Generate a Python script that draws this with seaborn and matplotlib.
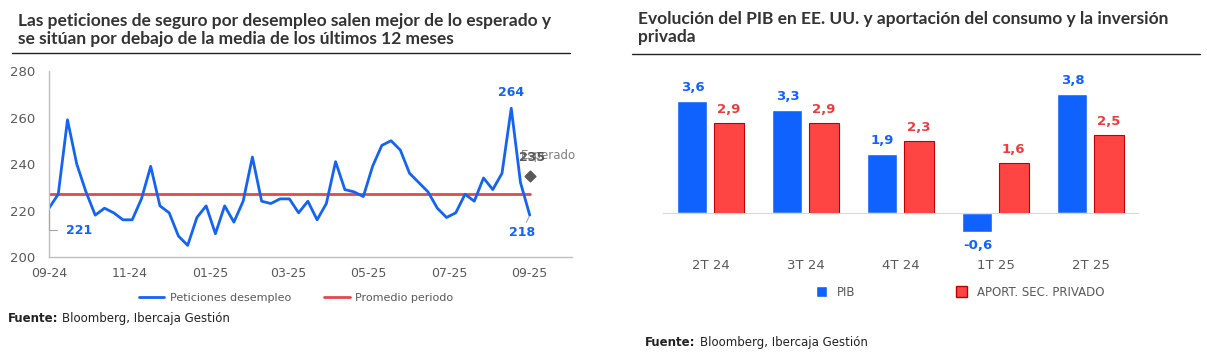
import matplotlib
matplotlib.use('Agg')
import matplotlib.pyplot as plt
from matplotlib.lines import Line2D
from matplotlib.patches import Patch
import pandas as pd
import seaborn as sns

# --- datos: peticiones semanales de seguro por desempleo (miles) ---
fecha_inicio = '2024-09-21'
peticiones = [221, 227, 259, 240, 228, 218, 221, 219, 216, 216, 225, 239, 222, 219,
              209, 205, 217, 222, 210, 222, 215, 224, 243, 224, 223, 225, 225, 219,
              224, 216, 223, 241, 229, 228, 226, 239, 248, 250, 246, 236, 232, 228,
              221, 217, 219, 227, 224, 234, 229, 236, 264, 232, 218]
promedio = 227.3
esperado = 235
tick_fechas = ['2024-09-21', '2024-11-21', '2025-01-21', '2025-03-21',
               '2025-05-21', '2025-07-21', '2025-09-20']
tick_etiquetas = ['09-24', '11-24', '01-25', '03-25', '05-25', '07-25', '09-25']

# --- datos: PIB EE. UU. y aportación sector privado ---
trimestres = ['2T 24', '3T 24', '4T 24', '1T 25', '2T 25']
pib = [3.6, 3.3, 1.9, -0.6, 3.8]
aport_privado = [2.9, 2.9, 2.3, 1.6, 2.5]

AZUL = '#1464F4'
ROJO = '#E5484D'
AZUL_BAR = '#0F62FE'
ROJO_BAR = '#FF4444'
GRIS = '#595959'
TITULO = '#333333'

sns.set_style('white')
plt.rcParams['font.family'] = ['DejaVu Sans']

W, H = 1207, 358
fig = plt.figure(figsize=(W / 100, H / 100), dpi=100)


def px_axes(x0, x1, y0, y1):
    # y0 = top pixel, y1 = bottom pixel
    return fig.add_axes([x0 / W, 1 - y1 / H, (x1 - x0) / W, (y1 - y0) / H])


def fuente(x, y):
    # "Fuente:" en negrita seguido del texto normal, misma línea base
    t = fig.text(x / W, 1 - y / H, 'Fuente:', fontweight='bold', fontsize=8.5,
                 color='#222222', va='baseline')
    fig.canvas.draw()
    bb = t.get_window_extent()
    fig.text((bb.x1 + 4) / W, 1 - y / H, 'Bloomberg, Ibercaja Gestión', fontsize=8.5,
             color='#222222', va='baseline')


# ================= Gráfico izquierdo =================
ax1 = px_axes(49, 572, 71, 257)
df = pd.DataFrame({'fecha': pd.date_range(fecha_inicio, periods=len(peticiones), freq='7D'),
                   'peticiones': peticiones})
df['promedio'] = promedio

sns.lineplot(data=df, x='fecha', y='promedio', color=ROJO, lw=2, ax=ax1)
sns.lineplot(data=df, x='fecha', y='peticiones', color=AZUL, lw=2, ax=ax1)

ultimo = df['fecha'].iloc[-1]
ax1.scatter([ultimo], [esperado], marker='D', s=30, color=GRIS, zorder=5)

ax1.set_ylim(200, 280)
ax1.set_yticks(range(200, 281, 20))
ax1.set_xlim(df['fecha'].iloc[0], ultimo + pd.Timedelta(days=32))
ax1.set_xticks(pd.to_datetime(tick_fechas))
ax1.set_xticklabels(tick_etiquetas)
ax1.set_xlabel('')
ax1.set_ylabel('')
for s in ['top', 'right']:
    ax1.spines[s].set_visible(False)
for s in ['left', 'bottom']:
    ax1.spines[s].set_color('#BFBFBF')
    ax1.spines[s].set_linewidth(1)
ax1.tick_params(axis='both', colors='#BFBFBF', labelcolor=GRIS, labelsize=9, length=4, width=1)
ax1.tick_params(axis='y', pad=6, labelsize=9.5)

# etiquetas de datos
imax = peticiones.index(max(peticiones))
ax1.annotate(str(peticiones[imax]), (df['fecha'].iloc[imax], peticiones[imax]),
             xytext=(0, 16), textcoords='offset pixels', ha='center', va='center',
             color=AZUL, fontsize=9, fontweight='bold')
ax1.annotate(str(peticiones[0]), (df['fecha'].iloc[0], peticiones[0]),
             xytext=(17, -22), textcoords='offset pixels', ha='left', va='center',
             color=AZUL, fontsize=9, fontweight='bold',
             arrowprops=dict(arrowstyle='-', color='#A6A6A6', lw=0.8,
                             connectionstyle='angle,angleA=0,angleB=90,rad=0', shrinkA=4, shrinkB=1))
ax1.annotate(str(peticiones[-1]), (ultimo, peticiones[-1]),
             xytext=(-8, -17), textcoords='offset pixels', ha='center', va='center',
             color=AZUL, fontsize=9, fontweight='bold',
             arrowprops=dict(arrowstyle='-', color='#A6A6A6', lw=0.8, shrinkA=8, shrinkB=1))
ax1.annotate('Esperado', (ultimo, esperado), xytext=(-9, 20), textcoords='offset pixels',
             ha='left', va='center', color='#7F7F7F', fontsize=8.5)
ax1.annotate(str(esperado), (ultimo, esperado), xytext=(2, 18), textcoords='offset pixels',
             ha='center', va='center', color=GRIS, fontsize=9, fontweight='bold')

fig.legend(handles=[Line2D([], [], color=AZUL, lw=2, label='Peticiones desempleo'),
                    Line2D([], [], color=ROJO, lw=2, label='Promedio periodo')],
           loc='center', bbox_to_anchor=(296 / W, 1 - 298 / H), ncol=2, frameon=False,
           fontsize=8, labelcolor=GRIS, handlelength=2.3, handletextpad=0.5, columnspacing=3.0)

fig.text(18 / W, 1 - 30 / H,
         'Las peticiones de seguro por desempleo salen mejor de lo esperado y\n'
         'se sitúan por debajo de la media de los últimos 12 meses',
         family='Lato', fontweight='bold', fontsize=12.5, color=TITULO, va='center',
         linespacing=1.1)
fig.add_artist(Line2D([12 / W, 570 / W], [1 - 53 / H, 1 - 53 / H], color='#222222', lw=1))
fuente(8, 322)

# ================= Gráfico derecho =================
ax2 = px_axes(663, 1138, 60, 245)
dfb = pd.DataFrame({'trimestre': trimestres * 2,
                    'valor': pib + aport_privado,
                    'serie': ['PIB'] * len(pib) + ['APORT. SEC. PRIVADO'] * len(aport_privado)})
sns.barplot(data=dfb, x='trimestre', y='valor', hue='serie', palette=[AZUL_BAR, ROJO_BAR],
            width=0.76, gap=0.17, saturation=1, legend=False, ax=ax2)

for cont, col in zip(ax2.containers, [AZUL_BAR, '#EE3B3B']):
    vals = [p.get_height() for p in cont]
    ax2.bar_label(cont, labels=[f'{v:.1f}'.replace('.', ',') for v in vals],
                  padding=5, color=col, fontsize=9.5, fontweight='bold')
for p in ax2.containers[1]:
    p.set_edgecolor('#C00000')
    p.set_linewidth(0.8)

ax2.set_xlim(-0.5, len(trimestres) - 0.5)
ax2.set_ylim(-1.026, 4.904)
ax2.set_yticks([])
ax2.set_xlabel('')
ax2.set_ylabel('')
for s in ['top', 'right', 'left']:
    ax2.spines[s].set_visible(False)
ax2.spines['bottom'].set_position(('data', 0))
ax2.spines['bottom'].set_color('#D9D9D9')
ax2.set_xticks(range(len(trimestres)))
ax2.set_xticklabels(trimestres)
ax2.set_xticks([i - 0.5 for i in range(len(trimestres) + 1)], minor=True)
ax2.tick_params(axis='x', which='major', length=0, pad=33, labelsize=9.5, labelcolor=GRIS)
ax2.tick_params(axis='x', which='minor', length=4, color='#D9D9D9', width=1)

fig.legend(handles=[Patch(facecolor=AZUL_BAR, label='PIB'),
                    Patch(facecolor=ROJO_BAR, edgecolor='#C00000', label='APORT. SEC. PRIVADO')],
           loc='center', bbox_to_anchor=(960 / W, 1 - 292 / H), ncol=2, frameon=False,
           fontsize=8.5, labelcolor=GRIS, handlelength=1.0, handleheight=1.0,
           handletextpad=0.8, columnspacing=8.5)

fig.text(638 / W, 1 - 28 / H,
         'Evolución del PIB en EE. UU. y aportación del consumo y la inversión\nprivada',
         family='Lato', fontweight='bold', fontsize=12.5, color=TITULO, va='center',
         linespacing=1.1)
fig.add_artist(Line2D([632 / W, 1200 / W], [1 - 54 / H, 1 - 54 / H], color='#222222', lw=1))
fuente(645, 346)

fig.savefig('out.png', dpi=100, facecolor='white')
